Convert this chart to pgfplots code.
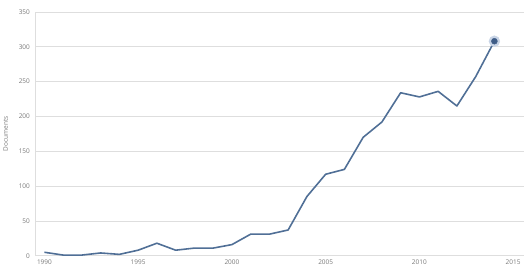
\documentclass[border=0pt]{standalone}
\usepackage{pgfplots}
\pgfplotsset{compat=1.18}
\usepackage{fontspec}
\setmainfont{Open Sans}
\definecolor{lineblue}{RGB}{80,111,150}
\definecolor{halo}{RGB}{200,212,230}
\definecolor{dotblue}{RGB}{62,92,135}
\definecolor{gridgray}{RGB}{222,222,222}
\definecolor{labgray}{RGB}{120,120,120}
\begin{document}
\begin{tikzpicture}[x=1pt,y=1pt]
\path (0,0) rectangle (528,277);
\begin{axis}[
  at={(33pt,20pt)}, anchor=south west,
  scale only axis, width=491pt, height=245pt,
  xmin=1989.52, xmax=2015.58, ymin=0, ymax=350,
  xtick={1990,1995,2000,2005,2010,2015},
  ytick={0,50,100,150,200,250,300,350},
  xticklabel style={/pgf/number format/1000 sep={}},
  /pgf/number format/assume math mode=true,
  ymajorgrids, grid style={gridgray, line width=0.8pt},
  axis x line*=bottom, axis y line*=left,
  axis line style={gridgray, line width=0.8pt},
  tick style={draw=none},
  ticklabel style={font=\fontsize{6.5}{7}\selectfont, text=labgray},
  yticklabel style={xshift=-2pt},
  xticklabel style={yshift=-1pt},
  ylabel={Documents},
  ylabel style={font=\fontsize{6.5}{7}\selectfont, text=labgray, at={(-24pt,0.5)}, anchor=south},
  clip=false,
]
\addplot[lineblue, line width=1.6pt, line join=round] coordinates {
(1990,5) (1991,1) (1992,1) (1993,4) (1994,2) (1995,8) (1996,18) (1997,8)
(1998,11) (1999,11) (2000,16) (2001,31) (2002,31) (2003,37) (2004,85)
(2005,117) (2006,124) (2007,170) (2008,192) (2009,234) (2010,228)
(2011,236) (2012,215) (2013,257) (2014,308)
};
\addplot[halo, only marks, mark=*, mark size=5.5pt, mark options={fill=halo, draw=halo}] coordinates {(2014,308)};
\addplot[dotblue, only marks, mark=*, mark size=3pt, mark options={fill=dotblue, draw=dotblue}] coordinates {(2014,308)};
\end{axis}
\end{tikzpicture}
\end{document}
